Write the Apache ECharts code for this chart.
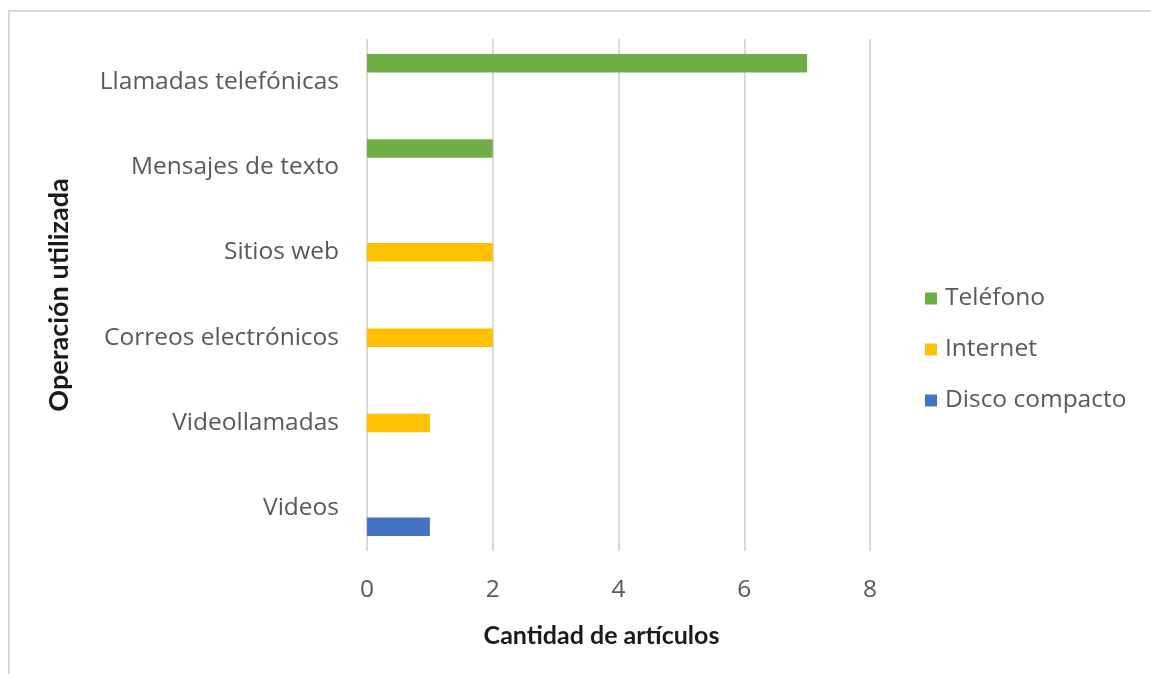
<!DOCTYPE html>
<html>
<head>
<meta charset="utf-8">
<script src="https://cdn.jsdelivr.net/npm/echarts@6/dist/echarts.min.js"></script>
<style>
html,body{margin:0;padding:0;background:#fff;}
#frame{position:absolute;left:8px;top:10px;width:1200px;height:700px;border-top:2px solid #d9d9d9;border-left:2px solid #d9d9d9;box-sizing:border-box;}
#chart{position:absolute;left:0;top:0;width:1151px;height:674px;}
</style>
</head>
<body>
<div id="frame"></div>
<div id="chart"></div>
<script>
// Categories listed bottom to top
const categories = ['Videos', 'Videollamadas', 'Correos electrónicos', 'Sitios web', 'Mensajes de texto', 'Llamadas telefónicas'];
const seriesNames = ['Teléfono', 'Internet', 'Disco compacto'];
const telefono = [null, null, null, null, 2, 7];
const internet = [null, 1, 2, 2, null, null];
const discoCompacto = [1, null, null, null, null, null];
const xTicks = [0, 2, 4, 6, 8];
const colors = ['#70AD47', '#FFC000', '#4472C4'];

const FONT = 'Open Sans';
const TFONT = 'Lato';
const FS = 24.5;
const chart = echarts.init(document.getElementById('chart'), null, {renderer: 'canvas'});
const dataSets = [telefono, internet, discoCompacto];
chart.setOption({
  animation: false,
  backgroundColor: 'transparent',
  textStyle: {fontFamily: FONT},
  grid: {left: 367, right: 281, top: 39, bottom: 123, containLabel: false},
  legend: {
    orient: 'vertical',
    left: 920,
    top: 281,
    itemWidth: 12,
    itemHeight: 12,
    itemGap: 26,
    icon: 'rect',
    data: seriesNames,
    textStyle: {fontFamily: FONT, fontSize: FS, color: '#595959', lineHeight: 24, padding: [0, 0, 0, 3]}
  },
  xAxis: {
    type: 'value',
    min: xTicks[0],
    max: xTicks[xTicks.length - 1],
    interval: 2,
    axisLine: {show: false},
    axisTick: {show: false},
    splitLine: {show: true, lineStyle: {color: '#d9d9d9', width: 2}},
    axisLabel: {fontFamily: FONT, fontSize: FS, color: '#595959', margin: 27},
    name: 'Cantidad de artículos',
    nameLocation: 'middle',
    nameGap: 72,
    nameTextStyle: {fontFamily: TFONT, fontSize: 25, fontWeight: 'bold', color: '#1a1a1a', padding: [0, 34, 0, 0]}
  },
  yAxis: {
    type: 'category',
    data: categories,
    axisLine: {show: false},
    axisTick: {show: false},
    axisLabel: {fontFamily: FONT, fontSize: FS, color: '#595959', margin: 28},
    name: 'Operación utilizada',
    nameLocation: 'middle',
    nameRotate: 90,
    nameGap: 294,
    nameTextStyle: {fontFamily: TFONT, fontSize: 27, fontWeight: 'bold', color: '#1a1a1a'}
  },
  series: seriesNames.map((n, i) => ({
    name: n,
    type: 'bar',
    data: dataSets[i],
    barGap: '0%',
    barCategoryGap: '35%',
    itemStyle: {color: colors[i]}
  }))
});
</script>
</body>
</html>
